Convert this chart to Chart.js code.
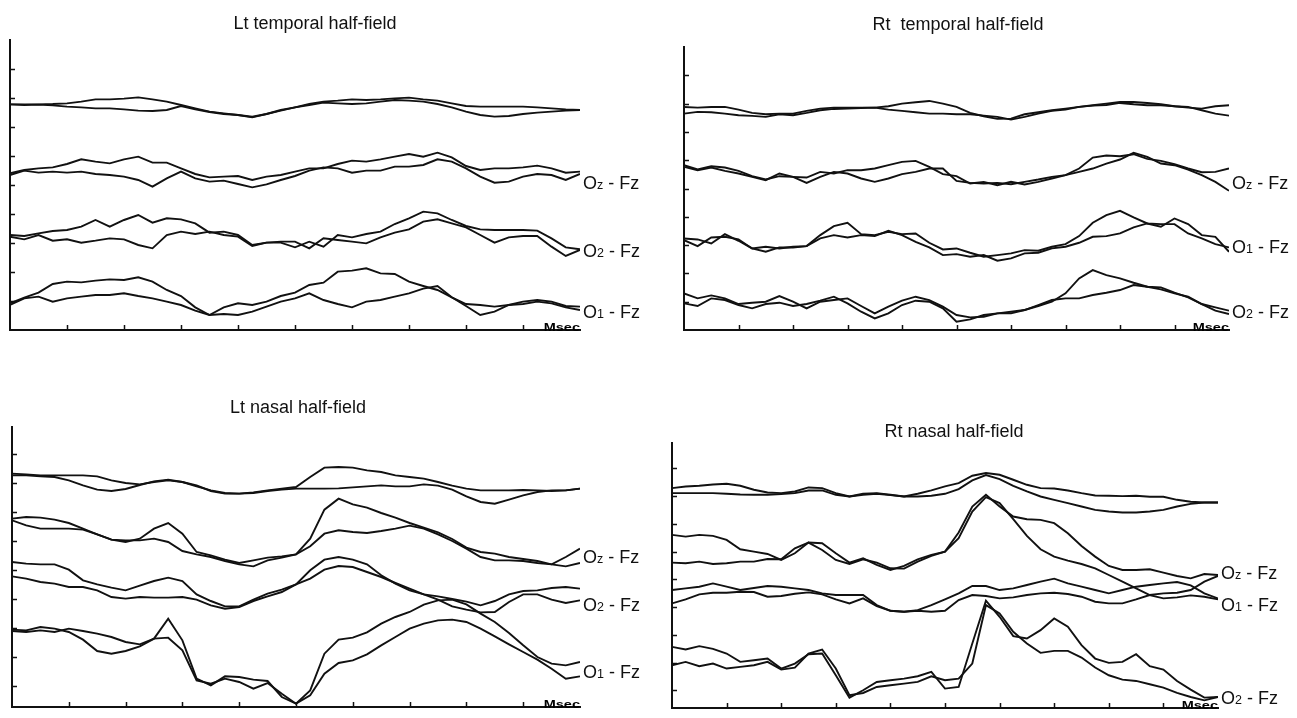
<!DOCTYPE html>
<html>
<head>
<meta charset="utf-8">
<script src="https://cdn.jsdelivr.net/npm/chart.js@4.4.0/dist/chart.umd.min.js"></script>
<style>
  body { margin: 0; background: #fff; width: 1297px; height: 718px; position: relative; overflow: hidden; }
  canvas { position: absolute; }
</style>
</head>
<body>
<canvas id="ltTemporal" width="648" height="350" style="left:0;top:0"></canvas>
<canvas id="rtTemporal" width="649" height="350" style="left:648px;top:0"></canvas>
<canvas id="ltNasal" width="648" height="368" style="left:0;top:350px"></canvas>
<canvas id="rtNasal" width="649" height="368" style="left:648px;top:350px"></canvas>
<script>
// sample times (ms), shared by every trace
const times = [0,12.5,25,37.5,50,62.5,75,87.5,100,112.5,125,137.5,150,162.5,175,187.5,200,212.5,225,237.5,
  250,262.5,275,287.5,300,312.5,325,337.5,350,362.5,375,387.5,400,412.5,425,437.5,450,462.5,475,487.5,500];

// Lt temporal half-field (amplitude, arbitrary units, one division = 87)
const ltTempTopA = [677,677,677,678,680,685,692,692,694,698,692,685,675,665,655,650,645,640,648,658,668,678,685,688,692,690,692,695,697,692,688,680,672,670,670,670,670,668,665,662,660];
const ltTempTopB = [677,675,676,674,670,668,665,665,662,658,657,660,672,662,654,648,645,638,648,660,668,675,682,680,678,680,685,690,688,685,678,668,655,645,640,642,648,652,655,658,660];
const ltTempOzA = [470,480,485,488,498,512,505,500,512,520,502,502,485,468,458,460,462,450,460,465,475,485,485,498,508,505,512,520,528,520,532,518,492,480,485,485,488,493,485,472,475];
const ltTempOzB = [465,478,472,475,472,475,468,465,460,450,430,455,475,455,445,448,438,428,437,450,462,478,488,485,472,478,478,490,490,495,512,505,485,460,442,445,460,468,465,450,468];
const ltTempO2A = [285,282,290,297,300,310,330,310,330,345,322,335,332,320,292,295,285,255,262,262,248,265,250,285,278,288,295,318,335,355,350,330,312,302,300,300,300,298,275,248,242];
const ltTempO2B = [280,272,285,268,272,262,268,275,272,255,245,285,295,288,295,285,280,252,262,265,265,245,275,270,265,260,278,292,302,325,332,320,308,285,262,278,282,282,250,222,240];
const ltTempO1A = [80,97,112,138,145,143,148,152,150,158,145,120,102,68,45,68,80,75,85,102,112,135,142,175,178,185,170,168,145,132,120,98,78,75,70,75,78,85,80,68,60];
const ltTempO1B = [75,95,100,85,95,100,105,105,110,102,95,85,75,58,45,48,45,55,70,85,95,110,90,78,68,85,90,100,110,124,132,98,72,45,55,75,85,90,85,72,70];
const ltTempChannels = ['Oz - Fz', 'O2 - Fz', 'O1 - Fz'];
const ltTempLabelY = [441, 237, 54];

// Rt temporal half-field (one division = 85)
const rtTempTopA = [670,668,670,670,662,652,648,650,650,658,665,668,668,668,668,672,680,684,688,680,670,652,642,634,635,648,654,660,665,670,675,680,685,685,682,678,672,670,660,650,644];
const rtTempTopB = [650,655,654,650,645,643,640,648,645,652,660,664,665,667,668,662,658,654,650,650,648,648,644,640,632,640,650,658,662,670,674,676,682,678,675,675,672,668,665,672,675];
const rtTempOzA = [495,482,492,488,478,462,452,462,460,458,475,470,480,480,485,495,505,508,490,468,462,440,445,435,445,437,445,455,465,485,518,524,522,528,514,508,498,485,474,475,485];
const rtTempOzB = [490,480,488,478,470,460,450,470,460,442,460,475,470,455,445,455,468,475,485,485,448,442,440,442,438,445,452,460,465,475,485,500,512,532,520,500,495,482,465,445,418];
const rtTempO1A = [275,272,260,288,268,245,250,245,250,252,285,312,322,288,285,295,288,290,262,242,245,232,220,225,230,240,238,250,258,282,322,345,358,338,320,318,318,290,275,258,248];
const rtTempO1B = [270,252,278,280,272,245,235,248,248,252,275,285,278,285,282,298,285,265,248,225,228,220,225,208,215,230,232,245,250,262,280,282,290,308,320,310,335,318,285,280,235];
const rtTempO2A = [110,95,104,95,78,82,85,102,85,65,85,90,95,72,50,70,88,100,90,70,45,38,40,50,50,60,72,85,110,155,180,165,155,142,130,128,112,98,78,68,58];
const rtTempO2B = [80,72,95,90,75,65,78,82,72,78,88,100,80,55,35,50,75,88,85,65,25,32,45,50,55,60,75,90,95,95,105,112,120,135,130,122,110,100,78,58,48];
const rtTempChannels = ['Oz - Fz', 'O1 - Fz', 'O2 - Fz'];
const rtTempLabelY = [441, 249, 54];

// Lt nasal half-field (one division = 87)
const ltNasTopA = [638,636,633,633,633,633,630,618,610,606,613,618,613,600,588,580,578,582,588,593,598,628,656,658,656,648,643,633,628,623,613,602,593,588,588,588,589,588,586,588,593];
const ltNasTopB = [633,633,630,628,618,603,590,586,592,604,615,620,613,603,586,578,578,580,586,590,593,593,593,594,597,600,603,600,600,606,602,590,570,553,548,560,573,583,588,588,593];
const ltNasOzA = [503,508,506,500,490,473,456,440,438,438,443,433,406,396,388,376,366,360,378,386,396,443,530,563,546,536,520,506,490,476,462,442,416,403,398,388,382,376,366,360,370];
const ltNasOzB = [498,483,473,473,473,470,456,440,433,443,473,490,458,403,393,380,370,378,386,390,396,420,458,468,463,460,466,473,482,473,456,436,413,388,378,378,376,370,366,388,413];
const ltNasO2A = [373,368,366,366,350,318,306,296,288,302,316,326,316,276,256,240,240,260,278,290,306,348,380,388,380,366,333,308,288,276,270,262,254,243,256,276,286,288,295,298,293];
const ltNasO2B = [330,323,313,308,298,298,288,268,263,268,266,266,268,260,243,233,238,256,270,283,306,323,350,361,358,343,328,310,293,276,260,240,230,222,223,253,276,276,260,250,258];
const ltNasO1A = [170,168,178,173,163,140,106,98,106,120,143,203,138,23,3,30,28,20,16,-32,-52,-12,98,140,146,162,188,208,223,245,258,260,246,218,193,160,123,88,68,63,73];
const ltNasO1B = [166,163,168,163,173,166,158,148,133,126,143,146,108,18,8,23,13,-7,10,-22,-52,-27,38,70,78,96,123,148,173,188,198,200,193,173,150,126,103,80,53,23,30];
const ltNasChannels = ['Oz - Fz', 'O2 - Fz', 'O1 - Fz'];
const ltNasLabelY = [387, 243, 42];

// Rt nasal half-field (one division = 83)
const rtNasTopA = [605,610,612,616,618,612,600,592,590,595,607,605,590,580,588,590,585,580,588,598,610,620,642,650,645,630,615,605,604,598,590,583,582,581,582,579,579,570,564,562,562];
const rtNasTopB = [590,590,590,590,588,586,585,585,587,590,598,598,585,580,585,588,584,580,580,582,588,602,628,644,632,612,595,580,570,560,550,540,535,532,532,535,540,550,558,562,562];
const rtNasOzA = [465,460,465,462,450,422,415,408,390,410,442,440,410,382,395,375,360,372,392,405,415,472,550,585,550,520,512,510,500,470,432,400,372,360,360,362,352,342,335,348,345];
const rtNasOzB = [382,380,385,378,380,385,385,393,392,425,442,420,390,378,392,382,365,364,385,402,415,455,535,578,560,512,462,422,400,388,378,365,345,325,305,285,275,278,284,280,272];
const rtNasO1A = [300,305,310,320,310,300,306,312,310,305,300,290,285,285,285,255,238,235,240,255,272,290,312,312,300,305,315,325,334,320,310,300,290,300,310,315,320,324,314,290,275];
const rtNasO1B = [260,272,287,292,292,295,294,280,282,289,293,287,272,260,275,252,238,235,238,235,238,270,285,282,275,278,285,290,292,288,280,265,260,260,272,285,290,292,300,325,342];
const rtNasO2A = [130,122,132,124,110,85,90,95,65,80,108,110,45,-22,0,25,30,35,42,55,5,10,140,268,220,162,155,180,215,190,135,95,82,85,108,72,62,28,2,-22,-20];
const rtNasO2B = [75,85,72,80,65,70,75,85,62,68,110,122,65,-15,-8,10,15,20,25,42,30,35,80,255,230,175,140,112,118,118,98,68,45,32,28,18,8,-8,-20,-30,-20];
const rtNasChannels = ['Oz - Fz', 'O1 - Fz', 'O2 - Fz'];
const rtNasLabelY = [351, 255, -24];

const family = '"Liberation Sans", Arial, Helvetica, sans-serif';
const ink = '#111';

// inward tick marks, panel title, channel names and the time tag
const figureText = {
  id: 'figureText',
  afterDraw(chart, args, opts) {
    const {ctx, chartArea: area, scales: {x, y}} = chart;
    ctx.save();
    ctx.strokeStyle = ink;
    ctx.lineWidth = 1.5;
    ctx.beginPath();
    x.ticks.forEach(t => {
      if (t.value <= x.min || t.value >= x.max) return;
      const px = Math.round(x.getPixelForValue(t.value)) + 0.5;
      ctx.moveTo(px, area.bottom);
      ctx.lineTo(px, area.bottom - 5);
    });
    y.ticks.forEach(t => {
      if (t.value <= y.min || t.value >= y.max) return;
      const py = Math.round(y.getPixelForValue(t.value)) + 0.5;
      ctx.moveTo(area.left, py);
      ctx.lineTo(area.left + 5, py);
    });
    ctx.stroke();

    ctx.fillStyle = ink;
    ctx.textBaseline = 'alphabetic';
    ctx.textAlign = 'center';
    ctx.font = '18px ' + family;
    ctx.fillText(opts.title, opts.titleX, opts.titleY);

    ctx.textAlign = 'left';
    opts.channels.forEach((name, i) => {
      let cx = area.right + 3;
      const base = y.getPixelForValue(opts.channelY[i]) + 6;
      ctx.font = '18px ' + family;
      ctx.fillText(name[0], cx, base);
      cx += ctx.measureText(name[0]).width;
      ctx.font = '12.5px ' + family;
      ctx.fillText(name[1], cx, base);
      cx += ctx.measureText(name[1]).width;
      ctx.font = '18px ' + family;
      ctx.fillText(name.slice(2), cx, base);
    });

    ctx.translate(area.right, area.bottom);
    ctx.scale(1.45, 1);
    ctx.font = 'bold 10px ' + family;
    ctx.textAlign = 'right';
    ctx.fillStyle = '#000';
    ctx.fillText('Msec', 0, 1);
    ctx.restore();
  }
};

function drawPanel(id, traces, yMin, yMax, yStep, pad, title, titleX, titleY, channels, channelY) {
  new Chart(document.getElementById(id), {
    type: 'line',
    data: {
      labels: times,
      datasets: traces.map(d => ({
        data: d,
        borderColor: ink,
        borderWidth: 1.9,
        pointRadius: 0,
        tension: 0,
        fill: false
      }))
    },
    options: {
      responsive: false,
      animation: false,
      events: [],
      layout: { padding: pad },
      plugins: {
        legend: { display: false },
        tooltip: { enabled: false },
        figureText: { title: title, titleX: titleX, titleY: titleY, channels: channels, channelY: channelY }
      },
      scales: {
        x: {
          type: 'linear', min: 0, max: 500,
          ticks: { display: false, stepSize: 50 },
          grid: { display: false, drawTicks: false },
          border: { display: true, color: ink, width: 2 }
        },
        y: {
          min: yMin, max: yMax,
          ticks: { display: false, stepSize: yStep, includeBounds: false },
          grid: { display: false, drawTicks: false },
          border: { display: true, color: ink, width: 2 }
        }
      }
    },
    plugins: [figureText]
  });
}

drawPanel('ltTemporal',
  [ltTempTopA, ltTempTopB, ltTempOzA, ltTempOzB, ltTempO2A, ltTempO2B, ltTempO1A, ltTempO1B],
  0, 870, 87, { left: 10, top: 40, right: 68, bottom: 20 },
  'Lt temporal half-field', 315, 29, ltTempChannels, ltTempLabelY);

drawPanel('rtTemporal',
  [rtTempTopA, rtTempTopB, rtTempOzA, rtTempOzB, rtTempO1A, rtTempO1B, rtTempO2A, rtTempO2B],
  0, 850, 85, { left: 36, top: 47, right: 68, bottom: 20 },
  'Rt  temporal half-field', 310, 30, rtTempChannels, rtTempLabelY);

drawPanel('ltNasal',
  [ltNasTopA, ltNasTopB, ltNasOzA, ltNasOzB, ltNasO2A, ltNasO2B, ltNasO1A, ltNasO1B],
  -62, 778, 87, { left: 12, top: 77, right: 68, bottom: 11 },
  'Lt nasal half-field', 298, 63, ltNasChannels, ltNasLabelY);

drawPanel('rtNasal',
  [rtNasTopA, rtNasTopB, rtNasOzA, rtNasOzB, rtNasO1A, rtNasO1B, rtNasO2A, rtNasO2B],
  -53, 740, 83, { left: 24, top: 93, right: 79, bottom: 10 },
  'Rt nasal half-field', 306, 87, rtNasChannels, rtNasLabelY);
</script>
</body>
</html>
